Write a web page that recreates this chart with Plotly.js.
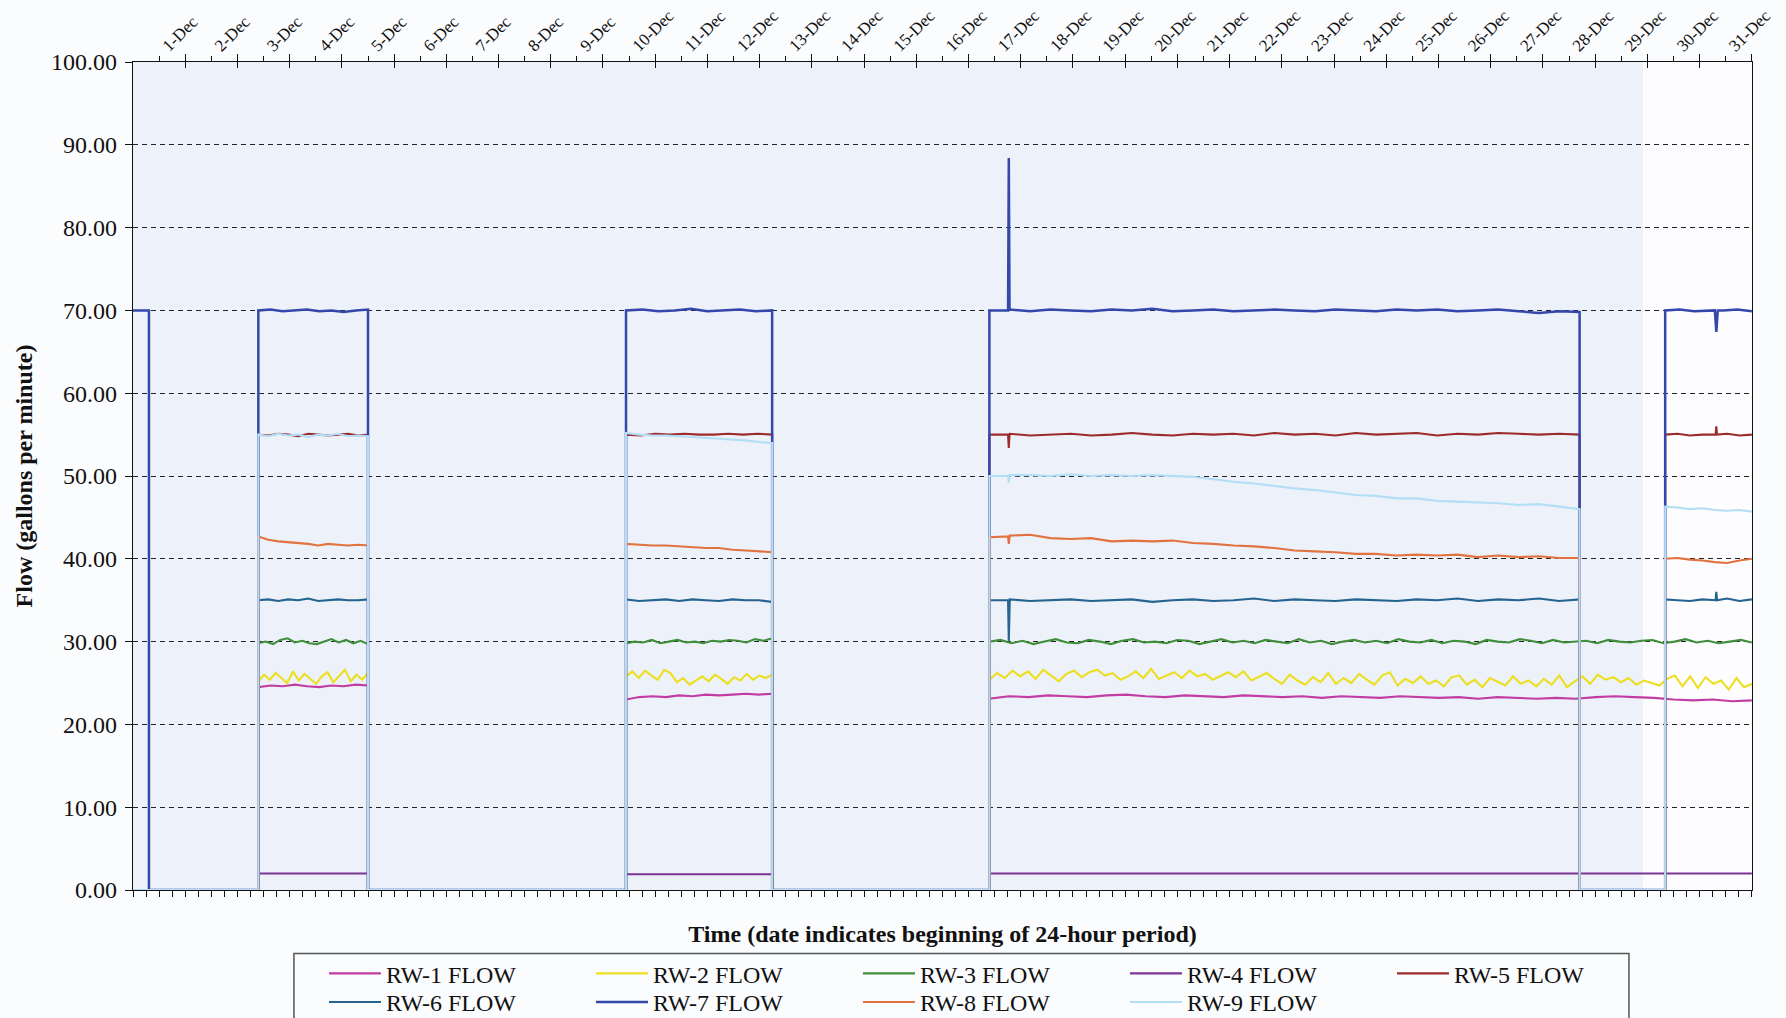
<!DOCTYPE html>
<html><head><meta charset="utf-8">
<script src="https://cdn.plot.ly/plotly-3.0.1.min.js"></script>
<style>html,body{margin:0;padding:0;background:#fff}#chart{width:1786px;height:1018px}</style>
</head><body><div id="chart"></div>
<script>
// ---------- DATA ----------
const seriesNames = ['RW-1 FLOW','RW-2 FLOW','RW-3 FLOW','RW-4 FLOW','RW-5 FLOW','RW-6 FLOW','RW-7 FLOW','RW-8 FLOW','RW-9 FLOW'];
const seriesColors = ['#c23da3','#ecdf1f','#3f8f3a','#7b3596','#9c2b2b','#25648f','#3447aa','#e2733f','#b3def5'];

const dayTickLabels = ['1-Dec','2-Dec','3-Dec','4-Dec','5-Dec','6-Dec','7-Dec','8-Dec','9-Dec','10-Dec','11-Dec','12-Dec','13-Dec','14-Dec','15-Dec','16-Dec','17-Dec','18-Dec','19-Dec','20-Dec','21-Dec','22-Dec','23-Dec','24-Dec','25-Dec','26-Dec','27-Dec','28-Dec','29-Dec','30-Dec','31-Dec'];
const dayTickDates = ['2008-12-01','2008-12-02','2008-12-03','2008-12-04','2008-12-05','2008-12-06','2008-12-07','2008-12-08','2008-12-09','2008-12-10','2008-12-11','2008-12-12','2008-12-13','2008-12-14','2008-12-15','2008-12-16','2008-12-17','2008-12-18','2008-12-19','2008-12-20','2008-12-21','2008-12-22','2008-12-23','2008-12-24','2008-12-25','2008-12-26','2008-12-27','2008-12-28','2008-12-29','2008-12-30','2008-12-31'];

const rangeStart = '2008-11-30 00:00';
const rangeEnd   = '2008-12-31 00:00';
const axisEnd    = '2008-12-31 00:04';

// pumping periods (start, end)
const P1  = ['2008-11-30 00:00','2008-11-30 07:20'];
const P2  = ['2008-12-02 09:36','2008-12-04 12:00'];
const P3  = ['2008-12-09 10:35','2008-12-12 05:45'];
const P4  = ['2008-12-16 09:35','2008-12-27 16:50'];
const P5  = ['2008-12-29 08:10','2008-12-31 00:00'];
const P45 = ['2008-12-16 09:35','2008-12-31 00:00'];

// RW-1
const rw1_p2 = [24.5,24.7,24.6,24.8,24.6,24.5,24.7,24.6,24.8,24.7];
const rw1_p3 = [23.0,23.3,23.4,23.3,23.5,23.4,23.6,23.5,23.6,23.7,23.6,23.7];
const rw1_p45 = [23.1,23.4,23.3,23.5,23.4,23.3,23.5,23.6,23.4,23.3,
                 23.5,23.4,23.3,23.5,23.4,23.3,23.4,23.2,23.4,23.3,
                 23.2,23.4,23.3,23.2,23.3,23.1,23.3,23.2,23.1,23.2,
                 23.1,23.3,23.4,23.3,23.2,23.0,22.9,23.0,22.8,22.9];
// RW-2
const rw2_p2 = [25.2,26.0,25.4,26.2,25.6,25.0,26.4,25.3,26.1,25.5,24.9,25.8,26.3,25.1,25.9,26.6,25.2,26.0,25.4,26.2];
const rw2_p3 = [25.8,26.4,25.6,26.5,25.9,25.4,26.6,26.2,25.1,25.6,24.8,25.3,25.8,25.2,26.0,25.5,24.9,25.7,25.3,26.1,25.4,25.9,25.6,26.0];
const rw2_p45 = [25.4,26.2,25.6,26.5,25.8,26.4,25.5,26.6,25.9,25.2,
                 26.1,26.5,25.7,26.3,26.6,25.9,26.2,25.4,25.8,26.4,
                 25.6,26.7,25.5,25.9,26.3,25.6,26.5,25.8,26.1,25.4,
                 25.9,26.3,25.7,26.4,25.3,25.8,26.2,25.5,24.9,26.0,
                 25.3,24.8,25.7,25.1,26.2,24.9,25.6,25.0,26.1,25.4,
                 24.8,25.9,26.3,24.7,25.5,25.0,25.8,24.9,25.3,24.6,
                 25.7,25.9,24.8,25.4,24.5,25.6,25.1,24.7,25.8,24.9,
                 25.3,24.6,25.5,24.8,25.9,24.5,25.2,25.8,24.9,26.0,
                 25.4,25.7,25.1,25.6,24.8,25.3,25.0,24.7,25.5,25.9,
                 24.6,25.8,24.4,25.7,24.9,25.3,24.2,25.6,24.5,24.9];
// RW-3
const rw3_p2 = [29.8,30.0,29.7,30.2,30.4,29.9,30.1,29.8,29.7,30.0,30.3,29.9,30.2,29.8,30.1,29.7];
const rw3_p3 = [29.8,30.0,29.9,30.2,29.8,30.0,30.2,29.9,30.0,29.8,30.1,30.0,30.2,30.1,29.9,30.3,30.1,30.4];
const rw3_p45 = [30.0,30.2,29.8,30.1,29.7,30.0,30.3,29.9,29.8,30.2,
                 30.0,29.7,30.1,30.3,29.9,30.0,29.8,30.2,30.1,29.7,
                 30.0,30.3,29.9,30.1,29.8,30.2,30.0,29.8,30.3,29.9,
                 30.1,29.7,30.0,30.2,29.9,30.1,29.8,30.3,30.0,29.9,
                 30.2,29.8,30.1,30.0,29.7,30.2,30.0,29.9,30.3,30.1,
                 29.8,30.2,29.9,30.0,30.1,29.8,30.2,30.0,29.9,30.1,
                 30.2,29.8,30.0,30.3,29.9,30.1,29.8,30.0,30.2,29.9];
// RW-4
const rw4_p2 = [2.0,2.0];
const rw4_p3 = [1.9,1.9];
const rw4_p45 = [2.0,2.0];
// RW-5
const rw5_p2 = [55.0,54.9,55.1,55.0,54.8,55.1,55.0,54.9,55.0,55.1,54.9,55.0];
const rw5_p3 = [55.0,54.9,55.1,55.0,55.1,55.0,55.0,55.1,55.0,55.1,55.0];
const rw5_p4 = [55.0,55.1,54.9,55.0,55.1,54.9,55.0,55.2,55.0,54.9,55.1,55.0,55.1,54.9,55.2,55.0,55.1,54.9,55.2,55.0,55.1,55.2,54.9,55.1,55.0,55.2,55.1,55.0,55.1,55.0];
const rw5_p5 = [55.0,55.1,54.9,55.0,55.0,55.1,54.9,55.0];
const rw5_events = [['2008-12-16 18:10',55.0],['2008-12-16 18:30',53.4],['2008-12-16 18:50',55.0],
                    ['2008-12-30 07:20',55.0],['2008-12-30 07:40',56.0],['2008-12-30 08:00',55.0]];
// RW-6
const rw6_p2 = [35.0,35.1,34.9,35.1,35.0,35.2,34.9,35.0,35.1,35.0,35.0,35.1];
const rw6_p3 = [35.1,34.9,35.0,35.1,34.9,35.1,35.0,34.9,35.1,35.0,35.0,34.8];
const rw6_p4 = [35.0,35.1,34.9,35.0,35.1,34.9,35.0,35.1,34.8,35.0,35.1,34.9,35.0,35.2,34.9,35.1,35.0,34.9,35.1,35.0,34.9,35.1,35.0,35.2,34.9,35.1,35.0,35.2,34.9,35.1];
const rw6_p5 = [35.1,35.0,34.9,35.1,35.0,35.2,34.9,35.1];
const rw6_events = [['2008-12-16 18:10',35.0],['2008-12-16 18:30',30.0],['2008-12-16 18:50',35.0],
                    ['2008-12-30 07:20',35.0],['2008-12-30 07:40',36.0],['2008-12-30 08:00',35.0]];
// RW-7
const rw7_p1 = [70.0,70.0];
const rw7_p2 = [70.0,70.1,69.9,70.0,70.1,69.9,70.0,69.8,70.0,70.1];
const rw7_p3 = [70.0,70.1,69.9,70.0,70.2,69.9,70.0,70.1,69.9,70.0];
const rw7_p4 = [70.0,70.1,69.9,70.1,70.0,69.9,70.1,70.0,70.2,69.9,70.0,70.1,69.9,70.0,70.1,70.0,69.9,70.1,70.0,69.9,70.1,70.0,70.1,69.9,70.0,70.1,69.9,69.7,69.9,69.8];
const rw7_p5 = [70.0,70.1,69.9,70.0,70.0,70.1,69.9];
const rw7_events = [['2008-12-16 18:10',70.0],['2008-12-16 18:30',88.4],['2008-12-16 18:50',70.0],
                    ['2008-12-30 07:00',70.0],['2008-12-30 07:40',67.4],['2008-12-30 08:20',70.0]];
// RW-8
const rw8_p2 = [42.7,42.3,42.1,42.0,41.9,41.8,41.6,41.8,41.7,41.6,41.7,41.6];
const rw8_p3 = [41.8,41.7,41.6,41.6,41.5,41.4,41.3,41.3,41.1,41.0,40.9,40.8];
const rw8_p4 = [42.6,42.8,42.9,42.5,42.4,42.5,42.1,42.2,42.1,42.2,41.9,41.8,41.6,41.5,41.3,41.0,40.9,40.8,40.6,40.6,40.4,40.5,40.4,40.5,40.2,40.4,40.2,40.3,40.1,40.1];
const rw8_p5 = [40.0,40.1,39.9,39.8,39.6,39.5,39.8,40.0];
const rw8_events = [['2008-12-16 18:10',42.7],['2008-12-16 18:30',41.8],['2008-12-16 18:50',42.7]];
// RW-9
const rw9_p2 = [55.0,54.8,55.1,54.9,55.0,54.7,55.0,54.9,55.1,54.8,54.9,54.8];
const rw9_p3 = [55.2,55.0,54.9,54.9,54.8,54.7,54.6,54.5,54.4,54.3,54.1,54.0];
const rw9_p4 = [50.0,50.1,50.1,50.0,50.2,50.0,50.1,50.0,50.1,50.0,49.9,49.6,49.3,49.1,48.8,48.5,48.3,48.0,47.7,47.6,47.3,47.3,47.0,46.9,46.8,46.7,46.5,46.6,46.3,46.0];
const rw9_p5 = [46.3,46.2,46.0,46.1,45.9,45.8,45.9,45.7];
const rw9_events = [['2008-12-16 18:10',50.0],['2008-12-16 18:30',49.2],['2008-12-16 18:50',50.0]];

// ---------- BUILD ----------
function toMs(s){ return Date.parse(s.replace(' ','T') + ':00Z'); }
function fmt(ms){ return new Date(ms).toISOString().replace('T',' ').slice(0,19); }
const R0 = toMs(rangeStart), R1 = toMs(rangeEnd);

function build(segments, events){
  const pts = [];
  if (toMs(segments[0][0][0]) > R0) pts.push([R0, 0]);
  segments.forEach(([p, vals]) => {
    const a = toMs(p[0]), b = toMs(p[1]), n = vals.length;
    if (a > R0) pts.push([a, 0]);
    vals.forEach((v, i) => pts.push([a + (b - a) * i / (n - 1), v]));
    if (b < R1) pts.push([b, 0]);
  });
  const lastEnd = toMs(segments[segments.length-1][0][1]);
  if (lastEnd < R1) pts.push([R1, 0]);
  (events || []).forEach(e => pts.push([toMs(e[0]), e[1]]));
  pts.sort((u, v) => u[0] - v[0]);
  return {x: pts.map(p => fmt(p[0])), y: pts.map(p => p[1])};
}

const seriesDefs = [
  build([[P2, rw1_p2],[P3, rw1_p3],[P45, rw1_p45]]),
  build([[P2, rw2_p2],[P3, rw2_p3],[P45, rw2_p45]]),
  build([[P2, rw3_p2],[P3, rw3_p3],[P45, rw3_p45]]),
  build([[P2, rw4_p2],[P3, rw4_p3],[P45, rw4_p45]]),
  build([[P2, rw5_p2],[P3, rw5_p3],[P4, rw5_p4],[P5, rw5_p5]], rw5_events),
  build([[P2, rw6_p2],[P3, rw6_p3],[P4, rw6_p4],[P5, rw6_p5]], rw6_events),
  build([[P1, rw7_p1],[P2, rw7_p2],[P3, rw7_p3],[P4, rw7_p4],[P5, rw7_p5]], rw7_events),
  build([[P2, rw8_p2],[P3, rw8_p3],[P4, rw8_p4],[P5, rw8_p5]], rw8_events),
  build([[P2, rw9_p2],[P3, rw9_p3],[P4, rw9_p4],[P5, rw9_p5]], rw9_events)
];

const SERIF = 'Liberation Serif, Times New Roman, serif';
const traces = seriesDefs.map((d, i) => ({
  type: 'scatter', mode: 'lines', name: seriesNames[i],
  x: d.x, y: d.y,
  line: {color: seriesColors[i], width: i === 6 ? 2.5 : 2.1},
  legend: i < 5 ? 'legend' : 'legend2',
  hoverinfo: 'skip'
}));
// dummy traces to anchor the top axes
traces.push({type:'scatter', x:[rangeStart, rangeEnd], y:[null,null], xaxis:'x2', yaxis:'y', showlegend:false, hoverinfo:'skip'});
traces.push({type:'scatter', x:[rangeStart, rangeEnd], y:[null,null], xaxis:'x3', yaxis:'y', showlegend:false, hoverinfo:'skip'});

const legendCommon = {
  orientation: 'h', xref: 'container', yref: 'container',
  xanchor: 'left', yanchor: 'top',
  entrywidth: 200, entrywidthmode: 'pixels',
  bgcolor: 'rgba(0,0,0,0)', borderwidth: 0,
  font: {family: SERIF, size: 24, color: '#111'},
  traceorder: 'normal', itemwidth: 52
};

const layout = {
  width: 1786, height: 1018,
  margin: {l: 133, r: 34, t: 62, b: 128},
  paper_bgcolor: '#fbfcfe',
  plot_bgcolor: '#edf1fa',
  font: {family: SERIF, color: '#111'},
  showlegend: true,
  legend: Object.assign({}, legendCommon, {x: 0.1814, y: 0.0655}),
  legend2: Object.assign({}, legendCommon, {x: 0.1814, y: 0.0375}),
  xaxis: {
    type: 'date', range: [rangeStart, axisEnd], anchor: 'y',
    showgrid: false, zeroline: false,
    showline: true, linecolor: '#111', linewidth: 1.2,
    ticks: 'outside', ticklen: 6, tickcolor: '#111', tickwidth: 1,
    tickmode: 'linear', tick0: rangeStart, dtick: 21600000,
    showticklabels: false,
    title: {text: '<b>Time (date indicates beginning of 24-hour period)</b>', font: {family: SERIF, size: 24, color: '#111'}, standoff: 29}
  },
  xaxis2: {
    type: 'date', range: [rangeStart, axisEnd], overlaying: 'x', side: 'top', anchor: 'y',
    showgrid: false, zeroline: false,
    showline: true, linecolor: '#111', linewidth: 1.2,
    tickmode: 'array', tickvals: dayTickDates, ticktext: dayTickLabels,
    ticks: 'outside', ticklen: 7, tickcolor: '#111', tickwidth: 1,
    tickangle: -45, tickfont: {family: SERIF, size: 17, color: '#111'},
    ticklabelshift: -22, ticklabelstandoff: -8,
    minor: {tickmode: 'linear', tick0: '2008-11-30 12:00', dtick: 86400000, ticks: 'outside', ticklen: 5, tickcolor: '#111', showgrid: false}
  },
  xaxis3: {
    type: 'date', range: [rangeStart, axisEnd], overlaying: 'x', side: 'top', anchor: 'y',
    showgrid: false, zeroline: false, showline: false,
    tickmode: 'array', tickvals: dayTickDates,
    ticks: 'inside', ticklen: 6, tickcolor: '#111', tickwidth: 1,
    showticklabels: false
  },
  yaxis: {
    range: [0, 100], tickmode: 'linear', tick0: 0, dtick: 10, tickformat: '.2f',
    showgrid: true, gridcolor: '#222', gridwidth: 1, griddash: '5px,4px',
    zeroline: false,
    showline: true, linecolor: '#111', linewidth: 1.2, mirror: true,
    ticks: 'outside', ticklen: 7, tickcolor: '#111',
    tickfont: {family: SERIF, size: 24, color: '#111'},
    ticklabelstandoff: 3,
    title: {text: '<b>Flow (gallons per minute)</b>', font: {family: SERIF, size: 24, color: '#111'}, standoff: 11}
  },
  shapes: [
    {type: 'rect', layer: 'below', xref: 'x', yref: 'paper', x0: '2008-12-28 22:00', x1: axisEnd, y0: 0, y1: 1, fillcolor: '#fdfdff', line: {width: 0}},
    {type: 'rect', layer: 'above', xref: 'paper', yref: 'paper', x0: 0.0994, x1: 0.924, y0: -0.0766, y1: -0.2, fillcolor: 'rgba(0,0,0,0)', line: {color: '#555', width: 1.5}}
  ]
};

Plotly.newPlot('chart', traces, layout, {displayModeBar: false, staticPlot: true});
</script>
</body></html>
